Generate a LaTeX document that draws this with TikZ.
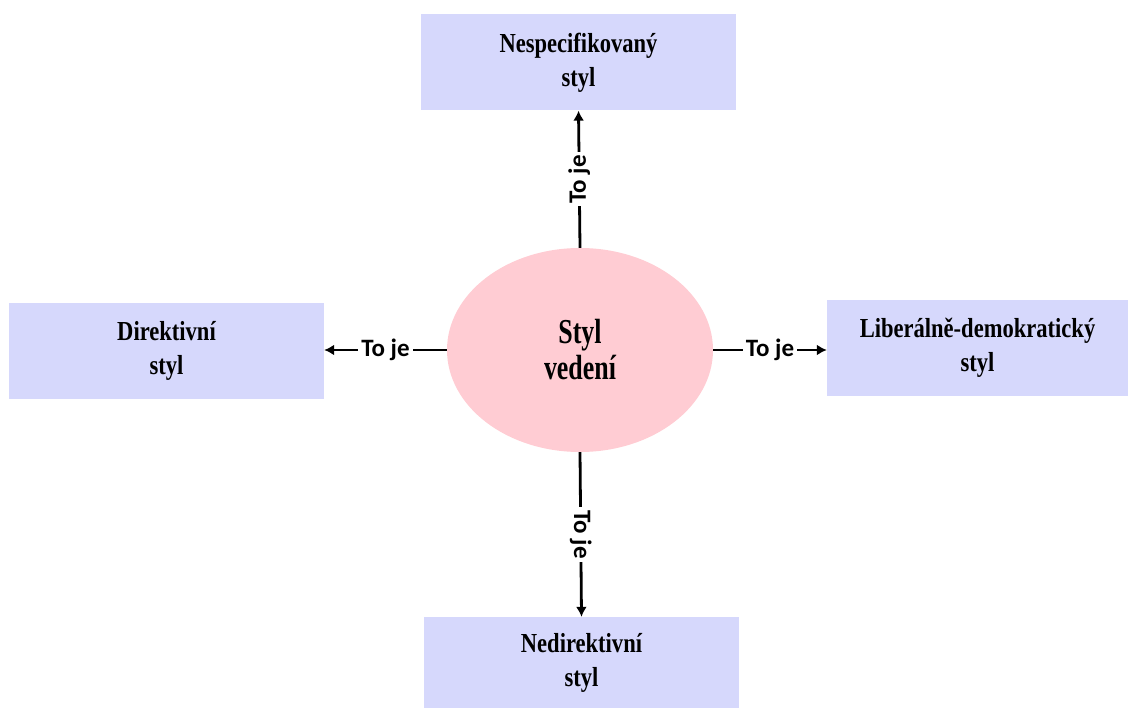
\documentclass[tikz,border=0pt]{standalone}
\usepackage{fontspec}
\setmainfont{Liberation Serif}
\newfontfamily\boxfont[FakeStretch=0.82]{Liberation Serif}
\newfontfamily\ovalfont[FakeStretch=0.74]{Liberation Serif}
\newfontfamily\linkfont{Carlito}
\usetikzlibrary{arrows.meta,shapes.geometric}

\definecolor{boxfill}{RGB}{214,216,252}
\definecolor{ovalfill}{RGB}{255,204,211}

\tikzset{
  stylebox/.style={rectangle, fill=boxfill, draw=none, minimum width=315pt,
    minimum height=96pt, align=center, inner sep=0pt,
    font=\boxfont\bfseries\fontsize{27.5}{34}\selectfont},
  hub/.style={ellipse, fill=ovalfill, draw=none, minimum width=266pt,
    minimum height=204pt, inner sep=0pt, align=center,
    font=\ovalfont\bfseries\fontsize{35}{36}\selectfont},
  link/.style={draw=black, line width=2.8pt, -{Latex[length=10pt,width=11pt]}},
  linklabel/.style={fill=white, inner sep=3pt,
    font=\linkfont\bfseries\fontsize{25}{26}\selectfont}
}

\begin{document}
\begin{tikzpicture}[x=1pt,y=-1pt]
  \useasboundingbox (0,0) rectangle (1129,708);

  % central idea
  \node[hub] (center) at (580,350) {Styl\\vedení};

  % the four styles
  \node[stylebox] (top) at (578.5,62.5) {Nespecifikovaný\\styl};
  \node[stylebox] (left) at (166.5,351) {Direktivní\\styl};
  \node[stylebox, minimum width=301pt] (right) at (977.5,348) {Liberálně-demokratický\\styl};
  \node[stylebox, minimum height=91pt] (bottom) at (581.5,662.5) {Nedirektivní\\styl};

  % connectors
  \draw[link] (center.north) -- (top.south)
    node[midway, linklabel, rotate=90] {To je};
  \draw[link] (center.west) -- (left.east |- center.west)
    node[midway, linklabel] {To je};
  \draw[link] (center.east) -- (right.west |- center.east)
    node[midway, linklabel] {To je};
  \draw[link] (center.south) -- (bottom.north)
    node[midway, linklabel, rotate=-90] {To je};
\end{tikzpicture}
\end{document}
